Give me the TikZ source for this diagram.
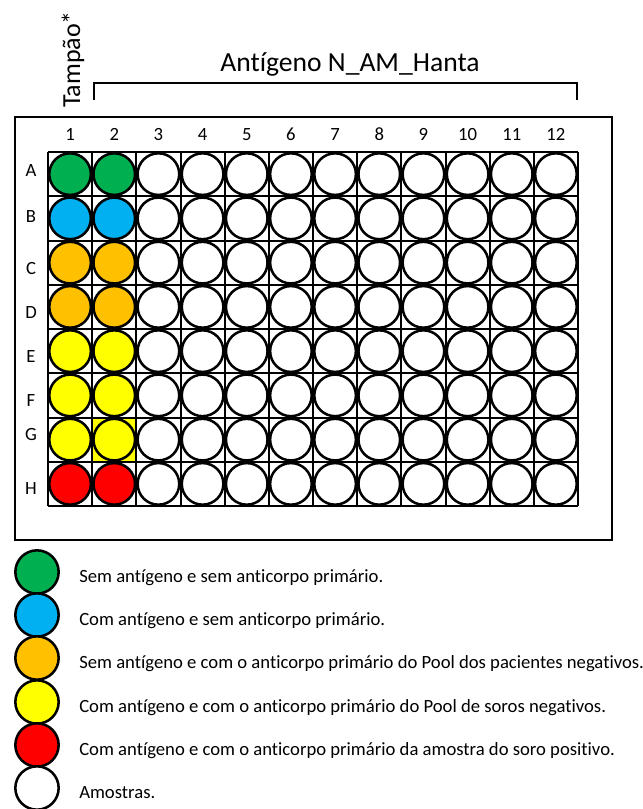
\documentclass[tikz,border=0pt]{standalone}
\usepackage{fontspec}
\setmainfont{Carlito}[Ligatures=NoCommon]
\definecolor{wgreen}{HTML}{00B050}
\definecolor{wblue}{HTML}{00B0F0}
\definecolor{worange}{HTML}{FFC000}
\definecolor{wyellow}{HTML}{FFFF00}
\definecolor{wred}{HTML}{FF0000}
\tikzset{
  well/.style={circle,draw,line width=1.9pt,minimum size=31.2pt,inner sep=0pt},
  keywell/.style={circle,draw,line width=1.9pt,minimum size=32.5pt,inner sep=0pt},
  lbl/.style={anchor=base,inner sep=0pt,font=\fontsize{14}{16}\selectfont},
  keytext/.style={anchor=base west,inner sep=0pt,font=\fontsize{14}{16}\selectfont}
}
\begin{document}
\begin{tikzpicture}[x=0.75pt,y=-0.75pt]
  \useasboundingbox (0,0) rectangle (642,809);
  % plate and header
  \draw[line width=2.2pt] (15,117) rectangle (612,540);
  \node[rotate=90,anchor=base west,inner sep=0pt,font=\fontsize{19.5}{22}\selectfont] (buffer) at (80,108) {Tampão*};
  \node[anchor=base,inner sep=0pt,font=\fontsize{20.7}{24}\selectfont] (antigen) at (350,72) {Antígeno N\_AM\_Hanta};
  \draw[line width=1.2pt] (94,100) -- (94,83) -- (577,83) -- (577,100);
  % grid of cells
  \fill[wyellow] (92.2,417.5) rectangle (136.3,461.8);
  \foreach \c in {0,...,12}
    \draw[line width=1.5pt] ({48+44.1667*\c},152) -- ({48+44.1667*\c},506);
  \foreach \r in {0,...,8}
    \draw[line width=1.5pt] (48,{152+44.25*\r}) -- (578,{152+44.25*\r});
  % wells
  \foreach \r/\rowname/\col in {1/A/wgreen,2/B/wblue,3/C/worange,4/D/worange,5/E/wyellow,6/F/wyellow,7/G/wyellow,8/H/wred}{
    \foreach \c in {1,...,12}{
      \ifnum\c<3 \def\wfill{\col}\else\def\wfill{white}\fi
      \node[well,fill=\wfill] (w\rowname\c) at ({48+44.1667*(\c-0.5)},{152+44.25*(\r-0.5)}) {};
    }
  }
  \foreach \c in {1,...,12}
    \node[lbl] (col\c) at ({48+44.1667*(\c-0.5)},141) {\c};
  \foreach \rowname/\y in {A/177,B/223,C/274,D/318,E/362,F/406,G/440,H/494}
    \node[lbl] (row\rowname) at (31,\y) {\rowname};
  % legend
  \foreach \i/\col/\y/\txt in {1/wgreen/572/{Sem antígeno e sem anticorpo primário.},
      2/wblue/615/{Com antígeno e sem anticorpo primário.},
      3/worange/658/{Sem antígeno e com o anticorpo primário do Pool dos pacientes negativos.},
      4/wyellow/702/{Com antígeno e com o anticorpo primário do Pool de soros negativos.},
      5/wred/745/{Com antígeno e com o anticorpo primário da amostra do soro positivo.},
      6/white/788/{Amostras.}}{
    \node[keywell,fill=\col] (key\i) at (37,\y) {};
    \node[keytext] (keytxt\i) at (79,\y+10) {\txt};
  }
\end{tikzpicture}
\end{document}
